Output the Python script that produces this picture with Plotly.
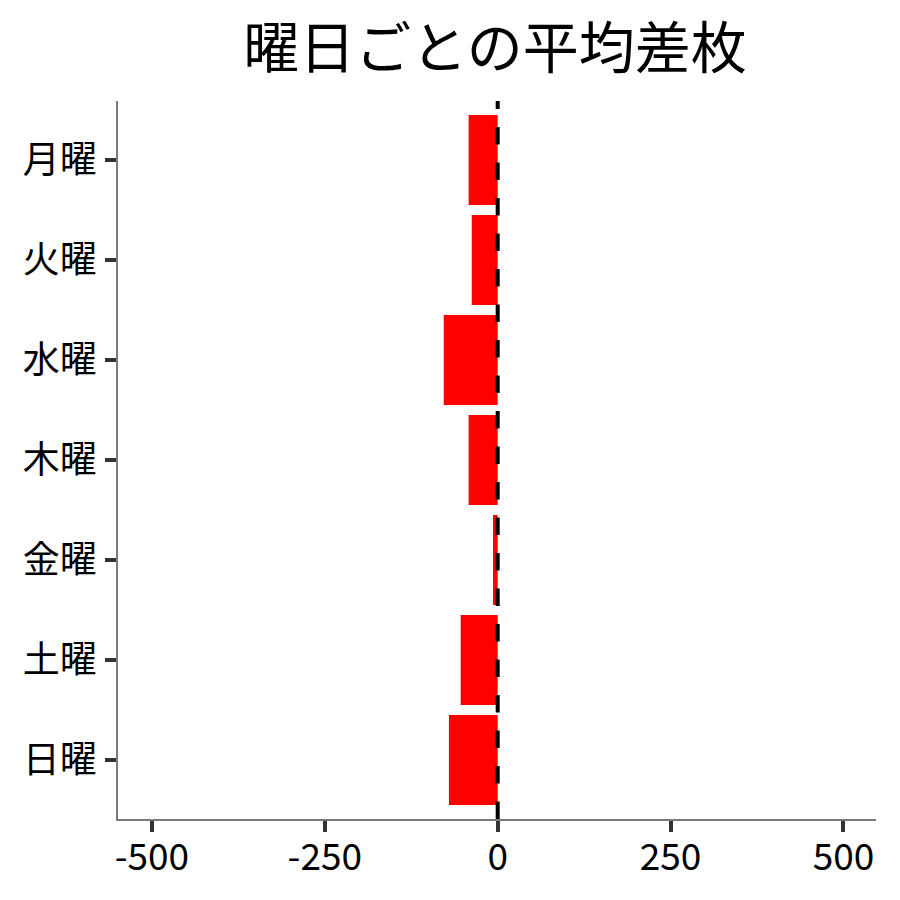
import plotly.graph_objects as go

days = ["月曜", "火曜", "水曜", "木曜", "金曜", "土曜", "日曜"]
avg_diff = [-42, -37.5, -78, -42, -6.8, -53.5, -70.5]
x_ticks = [-500, -250, 0, 250, 500]
x_tick_labels = ["-500", "-250", "0", "250", "500"]
title_text = "曜日ごとの平均差枚"

FONT = "Noto Sans CJK JP"

fig = go.Figure()
fig.add_trace(go.Bar(
    x=avg_diff, y=days, orientation="h",
    marker=dict(color="#FF0000", line=dict(width=0)),
    width=0.9, showlegend=False,
))

fig.add_shape(type="line", xref="x", yref="paper", x0=0, x1=0, y0=0, y1=1,
              line=dict(color="black", width=4, dash="17.5px,18px"), layer="above")

fig.update_layout(
    width=900, height=900,
    margin=dict(l=110, r=32, t=93, b=89),
    plot_bgcolor="white", paper_bgcolor="white",
    font=dict(family=FONT, color="black"),
    title=dict(text=title_text, x=487 / 900, xanchor="center",
               y=1 - 40 / 900, yanchor="middle",
               font=dict(size=56, family=FONT, color="black")),
    bargap=0.1,
)
fig.update_xaxes(
    range=[-549, 547], tickvals=x_ticks, ticktext=x_tick_labels,
    showgrid=False, zeroline=False, showline=True, linecolor="#7a7a7a", linewidth=1.5,
    ticks="outside", ticklen=11, tickwidth=4, tickcolor="#333333",
    ticklabelstandoff=-6,
    tickfont=dict(size=37, family=FONT, color="black"),
)
fig.update_yaxes(
    categoryorder="array", categoryarray=days, autorange=False, range=[6.59, -0.59],
    showgrid=False, zeroline=False, showline=True, linecolor="#7a7a7a", linewidth=1.5,
    ticks="outside", ticklen=11, tickwidth=4, tickcolor="#333333",
    ticklabelstandoff=1,
    tickfont=dict(size=37, family=FONT, color="black"),
)

fig.write_html("out.html")
